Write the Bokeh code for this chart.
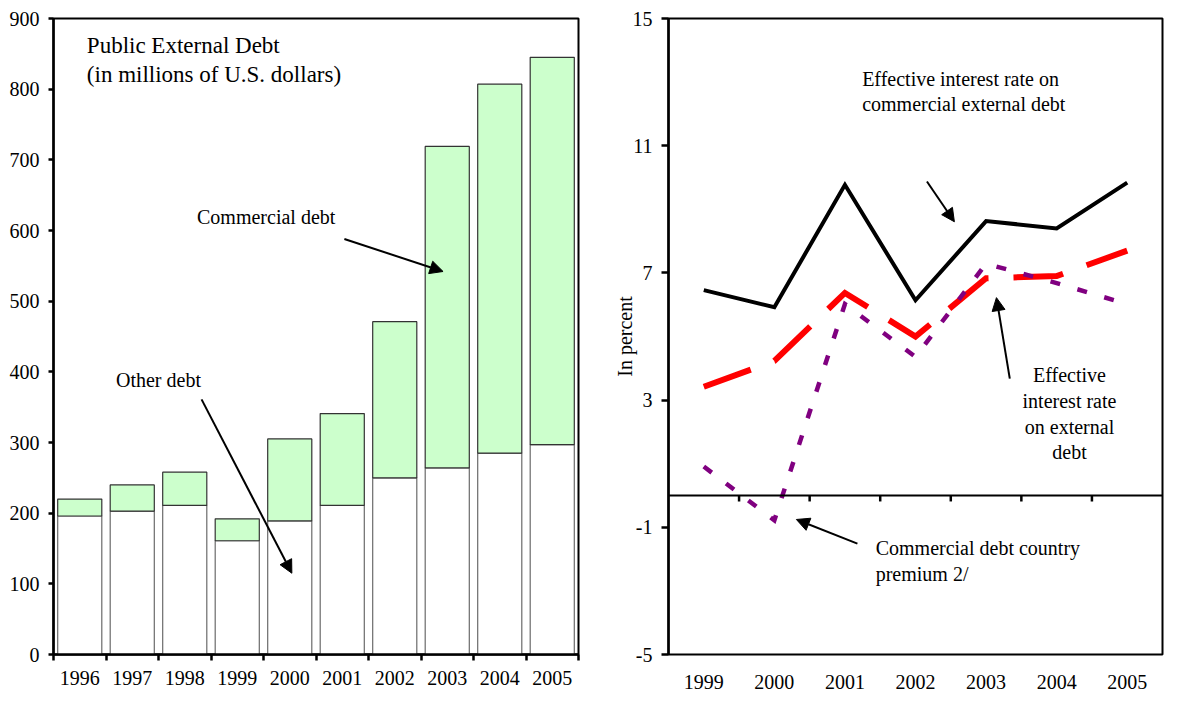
import math
from bokeh.plotting import figure
from bokeh.models import Range1d, FixedTicker, Label, Arrow, NormalHead, Span, ColumnDataSource
from bokeh.layouts import row
from bokeh.embed import file_html
from bokeh.resources import INLINE

# ---------------- data ----------------
years_left = ["1996", "1997", "1998", "1999", "2000", "2001", "2002", "2003", "2004", "2005"]
other_debt = [196, 203, 211, 161, 189, 211, 250, 264, 285, 297]
commercial_debt = [24, 37, 47, 31, 116, 130, 221, 455, 522, 548]
left_ticks = [0, 100, 200, 300, 400, 500, 600, 700, 800, 900]

years_right = ["1999", "2000", "2001", "2002", "2003", "2004", "2005"]
commercial_rate = [6.46, 5.92, 9.77, 6.14, 8.63, 8.40, 9.84]
external_rate = [3.42, 4.23, 6.37, 5.00, 6.83, 6.90, 7.70]
country_premium = [0.91, -0.78, 6.02, 4.36, 7.29, 6.68, 6.02]
right_ticks = [-5, -1, 3, 7, 11, 15]

FONT = "Liberation Serif"
FS = "20px"

# ---------------- left panel ----------------
p1 = figure(width=610, height=697, output_backend="svg", toolbar_location=None,
            x_range=Range1d(0.5, len(years_left) + 0.5), y_range=Range1d(0, 900),
            min_border_left=53, min_border_right=32, min_border_top=16, min_border_bottom=43)
p1.grid.visible = False
p1.outline_line_color = "black"
p1.outline_line_width = 2
p1.background_fill_color = "white"
p1.border_fill_color = "white"

xs = [i + 1 for i in range(len(years_left))]
tops = [o + c for o, c in zip(other_debt, commercial_debt)]
src = ColumnDataSource(dict(x=xs, other=other_debt, top=tops))
p1.vbar(x="x", bottom=0, top="other", width=0.84, source=src,
        fill_color="white", line_color="#6a6a6a", line_width=1.2)
p1.vbar(x="x", bottom="other", top="top", width=0.84, source=src,
        fill_color="#CCFFCC", line_color="#333333", line_width=1.2)

p1.xaxis.ticker = FixedTicker(ticks=xs, minor_ticks=[x - 0.5 for x in xs] + [xs[-1] + 0.5])
p1.xaxis.major_label_overrides = {x: y for x, y in zip(xs, years_left)}
p1.xaxis.major_tick_line_color = None
p1.xaxis.minor_tick_out = 6
p1.xaxis.minor_tick_in = 0
p1.xaxis.minor_tick_line_width = 2.5
p1.xaxis.minor_tick_line_color = "black"
p1.xaxis.major_label_standoff = 10
p1.yaxis.ticker = FixedTicker(ticks=left_ticks)
p1.yaxis.major_tick_out = 5
p1.yaxis.major_tick_in = 0
p1.yaxis.minor_tick_line_color = None
p1.yaxis.major_label_standoff = 9
for ax in (p1.xaxis, p1.yaxis):
    ax.axis_line_width = 2.5
    ax.axis_line_color = "black"
    ax.major_tick_line_width = 2.5
    ax.major_label_text_font = FONT
    ax.major_label_text_font_size = FS
    ax.major_label_text_color = "black"

def add_label(p, x, y, text, align="left", size=FS):
    p.add_layout(Label(x=x, y=y, text=text, text_font=FONT, text_font_size=size,
                       text_color="black", text_align=align, text_baseline="middle"))

def add_arrow(p, x0, y0, x1, y1, size=13, lw=2):
    p.add_layout(Arrow(end=NormalHead(size=size, fill_color="black", line_color="black"),
                       x_start=x0, y_start=y0, x_end=x1, y_end=y1,
                       line_color="black", line_width=lw))

add_label(p1, 1.135, 862, "Public External Debt", size="23px")
add_label(p1, 1.135, 821, "(in millions of U.S. dollars)", size="23px")
add_label(p1, 3.234, 619, "Commercial debt")
add_arrow(p1, 6.04, 588, 7.92, 542)
add_label(p1, 1.69, 388, "Other debt")
add_arrow(p1, 3.32, 361, 5.04, 115)

# ---------------- right panel ----------------
p2 = figure(width=554, height=697, output_backend="svg", toolbar_location=None,
            x_range=Range1d(0.5, len(years_right) + 0.5), y_range=Range1d(-5, 15),
            min_border_left=47, min_border_right=2, min_border_top=18, min_border_bottom=39)
p2.grid.visible = False
p2.outline_line_color = "black"
p2.outline_line_width = 2
p2.background_fill_color = "white"
p2.border_fill_color = "white"

xr = [i + 1 for i in range(len(years_right))]
p2.add_layout(Span(location=0, dimension="width", line_color="black", line_width=2))
bounds = [x + 0.5 for x in xr[:-1]]
tick_len = 6 / (640 / 20.0)
p2.segment(x0=bounds, y0=[0] * len(bounds), x1=bounds, y1=[-tick_len] * len(bounds),
           line_color="black", line_width=2.5)

p2.line(xr, commercial_rate, line_color="black", line_width=4, line_join="miter")
p2.line(xr, external_rate, line_color="#FF0000", line_width=6, line_dash="50 25",
        line_join="miter", line_cap="butt")
p2.line(xr, country_premium, line_color="#800080", line_width=4.5, line_dash="10 18",
        line_join="miter", line_cap="butt")

p2.xaxis.ticker = FixedTicker(ticks=xr)
p2.xaxis.major_label_overrides = {x: y for x, y in zip(xr, years_right)}
p2.xaxis.major_tick_line_color = None
p2.xaxis.minor_tick_line_color = None
p2.xaxis.axis_line_color = None
p2.xaxis.major_label_standoff = 14
p2.yaxis.ticker = FixedTicker(ticks=right_ticks)
p2.yaxis.major_label_overrides = {t: str(t) for t in right_ticks}
p2.yaxis.major_tick_out = 7
p2.yaxis.major_tick_in = 0
p2.yaxis.minor_tick_line_color = None
p2.yaxis.major_label_standoff = 9
p2.yaxis.axis_line_width = 2.5
p2.yaxis.axis_line_color = "black"
p2.yaxis.axis_label = "In percent"
p2.yaxis.axis_label_text_font = FONT
p2.yaxis.axis_label_text_font_size = FS
p2.yaxis.axis_label_text_font_style = "normal"
p2.yaxis.axis_label_text_color = "black"
p2.yaxis.axis_label_standoff = -6
for ax in (p2.xaxis, p2.yaxis):
    ax.major_tick_line_width = 2.5
    ax.major_label_text_font = FONT
    ax.major_label_text_font_size = FS
    ax.major_label_text_color = "black"

add_label(p2, 3.244, 13.09, "Effective interest rate on")
add_label(p2, 3.244, 12.31, "commercial external debt")
add_arrow(p2, 4.162, 9.874, 4.551, 8.608)
add_arrow(p2, 5.336, 3.678, 5.147, 6.222)
add_label(p2, 6.182, 3.778, "Effective", align="center")
add_label(p2, 6.182, 2.959, "interest rate", align="center")
add_label(p2, 6.182, 2.140, "on external", align="center")
add_label(p2, 6.182, 1.355, "debt", align="center")
add_arrow(p2, 3.177, -1.512, 2.312, -0.754)
add_label(p2, 3.436, -1.643, "Commercial debt country")
add_label(p2, 3.436, -2.462, "premium 2/")

layout = row(p1, p2)
open("out.html", "w").write(file_html(layout, INLINE))
